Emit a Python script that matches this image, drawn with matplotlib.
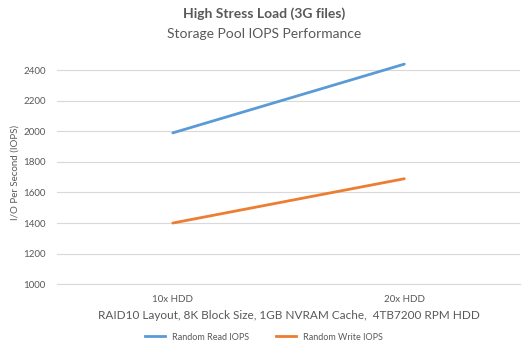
import matplotlib.pyplot as plt
import matplotlib.lines as mlines

plt.rcParams['font.family'] = ['Lato', 'DejaVu Sans']

# Data
categories = ["10x HDD", "20x HDD"]
read_iops = [1990, 2440]
write_iops = [1400, 1690]
yticks = [1000, 1200, 1400, 1600, 1800, 2000, 2200, 2400]

fig = plt.figure(figsize=(5.28, 3.53), dpi=100)
ax = fig.add_axes([0.108, 0.195, 0.877, 0.632])

x = range(len(categories))
ax.plot(x, read_iops, color="#5B9BD5", lw=2.0, solid_capstyle="round", label="Random Read IOPS")
ax.plot(x, write_iops, color="#ED7D31", lw=2.0, solid_capstyle="round", label="Random Write IOPS")

ax.set_xlim(-0.5, 1.5)
ax.set_ylim(1000, 2460)
ax.set_yticks(yticks)
ax.set_xticks(list(x))
ax.set_xticklabels(categories)
ax.grid(axis="y", color="#D9D9D9", lw=0.8)
ax.set_axisbelow(True)
for s in ["top", "right", "left"]:
    ax.spines[s].set_visible(False)
ax.spines["bottom"].set_color("#D9D9D9")
ax.tick_params(length=0, labelsize=7, colors="#595959", pad=8)

ax.set_ylabel("I/O Per Second (IOPS)", fontsize=7, color="#595959", labelpad=3)
ax.set_xlabel("RAID10 Layout, 8K Block Size, 1GB NVRAM Cache,  4TB7200 RPM HDD",
              fontsize=8.5, color="#595959", labelpad=4)

fig.text(0.5, 0.96, "High Stress Load (3G files)", ha="center", va="center",
         fontsize=10, fontweight="bold", color="#595959")
fig.text(0.5, 0.905, "Storage Pool IOPS Performance", ha="center", va="center",
         fontsize=10, color="#595959")

handles = [mlines.Line2D([], [], color="#5B9BD5", lw=2.0),
           mlines.Line2D([], [], color="#ED7D31", lw=2.0)]
fig.legend(handles, ["Random Read IOPS", "Random Write IOPS"], loc="center",
           bbox_to_anchor=(0.5, 0.045), ncol=2, frameon=False, fontsize=6.5,
           labelcolor="#595959", handlelength=2.2, columnspacing=3)

fig.savefig("out.png", dpi=100)
